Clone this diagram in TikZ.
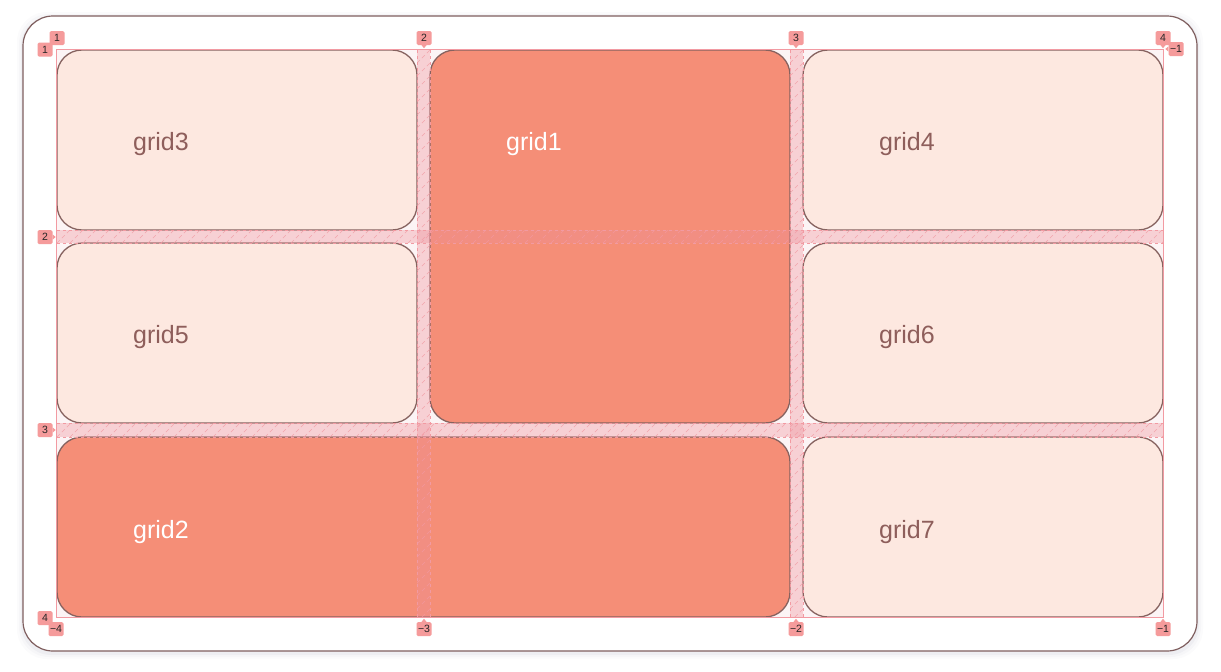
\documentclass[tikz,border=0pt]{standalone}
\usepackage{fontspec}
\setmainfont{Liberation Sans}
\definecolor{outerb}{HTML}{7F5F5F}
\definecolor{cellb}{HTML}{86625F}
\definecolor{lightc}{HTML}{FDE8E0}
\definecolor{darkc}{HTML}{F58E77}
\definecolor{txtb}{HTML}{8E5E5B}
\definecolor{lblpink}{HTML}{F59B9B}
\definecolor{gridpink}{HTML}{F29AA2}
\definecolor{gapfill}{HTML}{EE8F98}
\definecolor{contfill}{HTML}{FCF4F5}
\begin{document}
\begin{tikzpicture}[x=1pt,y=-1pt,
  cellL/.style={draw=cellb, line width=1.3pt, fill=lightc, rounded corners=25pt, inner sep=0pt},
  cellD/.style={draw=cellb, line width=1.3pt, fill=darkc, rounded corners=25pt, inner sep=0pt},
  celltxt/.style={anchor=west, inner sep=0pt, font=\fontsize{25}{28}\selectfont},
  lbl/.style={fill=lblpink, rounded corners=1.5pt, inner sep=0pt, minimum width=15pt, minimum height=14pt, font=\fontsize{10.5}{10.5}\selectfont, text=black!85},
  gapedge/.style={draw=gridpink, line width=0.6pt, dash pattern=on 3pt off 3pt},
  hatch/.style={draw=gridpink, line width=0.6pt, dash pattern=on 4pt off 3pt, opacity=0.8}]
\useasboundingbox (0,0) rectangle (1221,672);
\fill[white] (0,0) rectangle (1221,672);
% soft shadow
\foreach \e/\o in {6/0.015,4/0.02,2/0.03}{
  \fill[blue!30!black, opacity=\o, rounded corners=30pt] (23-\e,16-\e+2) rectangle (1197+\e,651+\e+2);
}
% outer container
\node[draw=outerb, line width=1.2pt, fill=white, rounded corners=30pt, minimum width=1174pt, minimum height=635pt, inner sep=0pt] (outer) at (610,333.5) {};
% grid container
\node[fill=contfill, minimum width=1106pt, minimum height=567pt, inner sep=0pt] (cont) at (610,333.5) {};
% cells
\node[cellL, minimum width=360pt, minimum height=180pt] (g3) at (237,140) {};
\node[cellD, minimum width=360pt, minimum height=373pt] (g1) at (610,236.5) {};
\node[cellL, minimum width=360pt, minimum height=180pt] (g4) at (983,140) {};
\node[cellL, minimum width=360pt, minimum height=180pt] (g5) at (237,333) {};
\node[cellL, minimum width=360pt, minimum height=180pt] (g6) at (983,333) {};
\node[cellD, minimum width=733pt, minimum height=180pt] (g2) at (423.5,527) {};
\node[cellL, minimum width=360pt, minimum height=180pt] (g7) at (983,527) {};
% gaps overlay
\fill[gapfill, opacity=0.35] (417,50) rectangle (430,617);
\fill[gapfill, opacity=0.35] (790,50) rectangle (803,617);
\fill[gapfill, opacity=0.35] (57,230) rectangle (1163,243);
\fill[gapfill, opacity=0.35] (57,423) rectangle (1163,437);
% hatching
\begin{scope}
\clip (57,230) rectangle (1163,243);
\foreach \k in {44,57,...,1170}{ \draw[hatch] (\k,243) -- (\k+13,230); }
\end{scope}
\begin{scope}
\clip (57,423) rectangle (1163,437);
\foreach \k in {44,57,...,1170}{ \draw[hatch] (\k,437) -- (\k+14,423); }
\end{scope}
\begin{scope}
\clip (417,50) rectangle (430,617);
\foreach \k in {50,63,...,640}{ \draw[hatch] (417,\k) -- (430,\k-13); }
\end{scope}
\begin{scope}
\clip (790,50) rectangle (803,617);
\foreach \k in {50,63,...,640}{ \draw[hatch] (790,\k) -- (803,\k-13); }
\end{scope}
% gap edges
\draw[gapedge] (417,50) -- (417,617) (430,50) -- (430,617);
\draw[gapedge] (790,50) -- (790,617) (803,50) -- (803,617);
\draw[gapedge] (57,230) -- (1163,230) (57,243) -- (1163,243);
\draw[gapedge] (57,423) -- (1163,423) (57,437) -- (1163,437);
% grid outline
\draw[gridpink, line width=0.9pt] (cont.north west) rectangle (cont.south east);
% cell texts
\node[celltxt, text=txtb] (t3) at (133,144) {grid3};
\node[celltxt, text=white] (t1) at (506,144) {grid1};
\node[celltxt, text=txtb] (t4) at (879,144) {grid4};
\node[celltxt, text=txtb] (t5) at (133,337) {grid5};
\node[celltxt, text=txtb] (t6) at (879,337) {grid6};
\node[celltxt, text=white] (t2) at (133,532) {grid2};
\node[celltxt, text=txtb] (t7) at (879,532) {grid7};
% line number labels
\node[lbl] (c1) at (57,38) {1};
\node[lbl] (c2) at (424,38) {2};
\node[lbl] (c3) at (796,38) {3};
\node[lbl] (c4) at (1163,38) {4};
\node[lbl] (r1) at (45,49.5) {1};
\node[lbl] (r2) at (45,237) {2};
\node[lbl] (r3) at (45,430) {3};
\node[lbl] (r4) at (45,618) {4};
\node[lbl] (rm1) at (1176,49) {−1};
\node[lbl] (cm4) at (56,629) {−4};
\node[lbl] (cm3) at (424,629) {−3};
\node[lbl] (cm2) at (796,629) {−2};
\node[lbl] (cm1) at (1163,629) {−1};
% pointers
\foreach \n in {c2,c3,c4}{ \fill[lblpink] ([xshift=-2.5pt]\n.south) -- ([xshift=2.5pt]\n.south) -- ([yshift=-3pt]\n.south) -- cycle; }
\foreach \n in {cm3,cm2,cm1}{ \fill[lblpink] ([xshift=-2.5pt]\n.north) -- ([xshift=2.5pt]\n.north) -- ([yshift=3pt]\n.north) -- cycle; }
\foreach \n in {r2,r3}{ \fill[lblpink] ([yshift=-2.5pt]\n.east) -- ([yshift=2.5pt]\n.east) -- ([xshift=3pt]\n.east) -- cycle; }
\fill[lblpink] ([yshift=-2.5pt]rm1.west) -- ([yshift=2.5pt]rm1.west) -- ([xshift=-3pt]rm1.west) -- cycle;
\end{tikzpicture}
\end{document}
